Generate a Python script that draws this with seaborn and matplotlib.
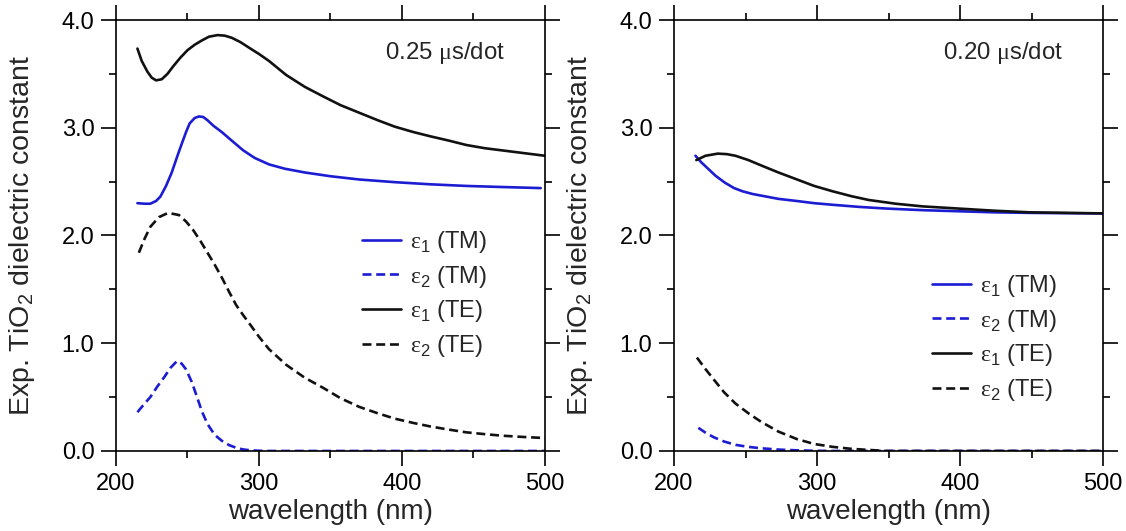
import numpy as np
import pandas as pd
import seaborn as sns
import matplotlib.pyplot as plt
from matplotlib.ticker import MultipleLocator, FormatStrFormatter

sns.set_style('ticks')
plt.rcParams['font.family'] = ['Liberation Sans', 'DejaVu Sans']
plt.rcParams['mathtext.fontset'] = 'custom'
plt.rcParams['mathtext.rm'] = 'Liberation Sans'
plt.rcParams['mathtext.tt'] = 'Liberation Serif'

AZUL = '#1c1cd2'
NEGRO = '#111111'

# ---- Panel izquierdo: 0.25 us/dot ----
x_e1_te_a = [215, 218, 222, 225, 228, 232, 236, 240, 245, 250, 255, 260, 265, 271, 276, 281, 287, 294, 300, 307, 313, 319, 332, 345, 357, 370, 383, 395, 408, 420, 433, 445, 458, 470, 485, 500]
y_e1_te_a = [3.735, 3.62, 3.52, 3.465, 3.44, 3.45, 3.50, 3.57, 3.65, 3.72, 3.77, 3.81, 3.845, 3.86, 3.855, 3.835, 3.795, 3.735, 3.685, 3.62, 3.555, 3.49, 3.38, 3.29, 3.21, 3.14, 3.07, 3.01, 2.96, 2.92, 2.88, 2.84, 2.81, 2.79, 2.765, 2.74]

x_e1_tm_a = [215, 220, 224, 228, 231, 235, 239, 243, 246.5, 249, 251.5, 255, 258, 261, 264, 268, 274, 281, 289, 297, 307, 318, 332, 350, 370, 395, 420, 445, 470, 497]
y_e1_tm_a = [2.30, 2.295, 2.295, 2.32, 2.36, 2.46, 2.585, 2.74, 2.87, 2.96, 3.04, 3.09, 3.105, 3.10, 3.07, 3.02, 2.96, 2.88, 2.79, 2.72, 2.66, 2.62, 2.585, 2.55, 2.52, 2.495, 2.475, 2.46, 2.45, 2.44]

x_e2_te_a = [216, 220, 224, 230, 236.5, 244, 249, 254, 259, 264, 269, 274, 279, 284, 289, 294, 300, 307, 319, 332, 345, 357, 370, 383, 395, 408, 420, 433, 445, 458, 470, 485, 500]
y_e2_te_a = [1.84, 1.97, 2.08, 2.17, 2.21, 2.19, 2.13, 2.05, 1.95, 1.84, 1.73, 1.61, 1.48, 1.355, 1.26, 1.17, 1.06, 0.945, 0.80, 0.68, 0.585, 0.49, 0.41, 0.35, 0.30, 0.26, 0.227, 0.198, 0.173, 0.156, 0.142, 0.13, 0.12]

x_e2_tm_a = [215, 220, 224, 229, 234, 238, 242.7, 246, 249, 253, 256.6, 260, 264, 269, 274, 279, 284, 289, 294, 300, 307, 350, 400, 450, 500]
y_e2_tm_a = [0.36, 0.44, 0.50, 0.60, 0.69, 0.77, 0.835, 0.81, 0.757, 0.64, 0.504, 0.37, 0.25, 0.15, 0.095, 0.055, 0.03, 0.014, 0.006, 0.002, 0.0, 0.0, 0.0, 0.0, 0.0]

# ---- Panel derecho: 0.20 us/dot ----
x_e1_te_b = [215.6, 222, 230.6, 237, 243, 252, 261, 273, 286, 298, 311, 324, 336, 355, 374, 399, 424, 449, 475, 500]
y_e1_te_b = [2.70, 2.74, 2.76, 2.755, 2.74, 2.70, 2.65, 2.585, 2.52, 2.46, 2.41, 2.365, 2.33, 2.295, 2.27, 2.25, 2.23, 2.215, 2.21, 2.205]

x_e1_tm_b = [215, 219, 223, 229, 235.6, 242, 248, 255, 261, 273, 286, 298, 311, 330, 348.6, 374, 399, 424, 449, 475, 500]
y_e1_tm_b = [2.74, 2.68, 2.63, 2.555, 2.49, 2.44, 2.41, 2.385, 2.37, 2.34, 2.32, 2.30, 2.285, 2.265, 2.25, 2.235, 2.225, 2.215, 2.21, 2.207, 2.205]

x_e2_te_b = [216, 222, 228, 235, 243, 252, 261, 273, 286, 298, 311, 324, 336, 348.6, 400, 450, 500]
y_e2_te_b = [0.867, 0.76, 0.66, 0.545, 0.44, 0.35, 0.27, 0.18, 0.11, 0.065, 0.038, 0.02, 0.01, 0.0, 0.0, 0.0, 0.0]

x_e2_tm_b = [217, 222, 228, 235, 243, 252, 261, 273, 286, 298, 311, 350, 400, 450, 500]
y_e2_tm_b = [0.215, 0.17, 0.126, 0.088, 0.057, 0.038, 0.025, 0.013, 0.006, 0.002, 0.0, 0.0, 0.0, 0.0, 0.0]

etiquetas = [r'$\mathtt{\varepsilon}_1$ (TM)', r'$\mathtt{\varepsilon}_2$ (TM)',
             r'$\mathtt{\varepsilon}_1$ (TE)', r'$\mathtt{\varepsilon}_2$ (TE)']
notas = [r'0.25 $\mathtt{\mu}$s/dot', r'0.20 $\mathtt{\mu}$s/dot']

paneles = [
    [(x_e1_tm_a, y_e1_tm_a), (x_e2_tm_a, y_e2_tm_a), (x_e1_te_a, y_e1_te_a), (x_e2_te_a, y_e2_te_a)],
    [(x_e1_tm_b, y_e1_tm_b), (x_e2_tm_b, y_e2_tm_b), (x_e1_te_b, y_e1_te_b), (x_e2_te_b, y_e2_te_b)],
]
colores = [AZUL, AZUL, NEGRO, NEGRO]
estilos = ['-', '--', '-', '--']

fig = plt.figure(figsize=(11.26, 5.31), dpi=100)
posiciones = [[0.1030, 0.1507, 0.3810, 0.8116], [0.5986, 0.1507, 0.3810, 0.8116]]
legend_pos = [(0.551, 0.537), (0.579, 0.435)]

for k, curvas in enumerate(paneles):
    ax = fig.add_axes(posiciones[k])
    for (xs, ys), c, ls, lab in zip(curvas, colores, estilos, etiquetas):
        sns.lineplot(x=xs, y=ys, ax=ax, color=c, linestyle=ls, linewidth=1.9,
                     label=lab, dashes=False if ls == '-' else None)
    for ln in ax.get_lines():
        if ln.get_linestyle() == '--':
            ln.set_dashes((3.4, 1.8))

    ax.set_xlim(200, 500)
    ax.set_ylim(0, 4.0)
    ax.xaxis.set_major_locator(MultipleLocator(100))
    ax.xaxis.set_minor_locator(MultipleLocator(50))
    ax.yaxis.set_major_locator(MultipleLocator(1.0))
    ax.yaxis.set_minor_locator(MultipleLocator(0.5))
    ax.yaxis.set_major_formatter(FormatStrFormatter('%.1f'))
    ax.tick_params(which='both', direction='out', top=True, right=True,
                   width=1.2, color='black', labelsize=17, labelcolor='black')
    ax.tick_params(which='major', length=10.5, pad=5)
    ax.tick_params(which='minor', length=5)
    for sp in ax.spines.values():
        sp.set_linewidth(1.2)
        sp.set_color('black')
        sp.set_visible(True)

    ax.set_xlabel('wavelength (nm)', fontsize=20)
    ax.set_ylabel(r'Exp. TiO$_2$ dielectric constant', fontsize=20.5)
    ax.xaxis.set_label_coords(0.5, -0.112)
    ax.yaxis.set_label_coords(-0.184, 0.5)

    ax.text(0.907, 0.923, notas[k], transform=ax.transAxes, ha='right', va='center', fontsize=17.3)

    leg = ax.legend(loc='upper left', bbox_to_anchor=legend_pos[k], frameon=False,
                    fontsize=17, handlelength=1.65, handletextpad=0.4, labelspacing=0.37,
                    borderaxespad=0)

fig.savefig('out.png', dpi=100)
